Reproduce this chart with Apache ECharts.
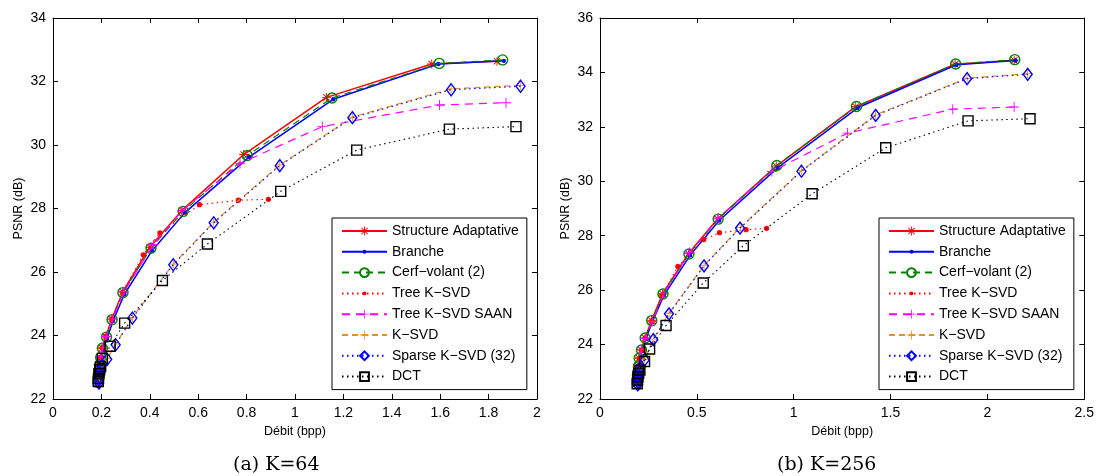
<!DOCTYPE html>
<html><head><meta charset="utf-8">
<script src="https://cdn.jsdelivr.net/npm/echarts@6/dist/echarts.min.js"></script>
<style>html,body{margin:0;padding:0;background:#fff}#c{width:1097px;height:476px}</style>
</head><body><div id="c"></div>
<script>
const seriesNames = ['Structure Adaptative','Branche','Cerf\u2212volant (2)','Tree K\u2212SVD','Tree K\u2212SVD SAAN','K\u2212SVD','Sparse K\u2212SVD (32)','DCT'];
const xTicks64 = {min:0, max:2, interval:0.2};
const yTicks64 = {min:22, max:34, interval:2};
const xTicks256 = {min:0, max:2.5, interval:0.5};
const yTicks256 = {min:22, max:36, interval:2};
const captions = ['(a) K=64','(b) K=256'];
const axisNames = {x:'D\u00e9bit (bpp)', y:'PSNR (dB)'};

// ---- K = 64 : [rate (bpp), PSNR (dB)] ----
const k64_structure = [[0.186,22.52],[0.187,22.62],[0.188,22.74],[0.19,22.88],[0.192,23.05],[0.196,23.3],[0.203,23.6],[0.218,23.96],[0.243,24.52],[0.288,25.37],[0.4,26.78],[0.533,27.94],[0.788,29.7],[1.13,31.5],[1.565,32.55],[1.835,32.64]];
const k64_branche = [[0.187,22.5],[0.188,22.6],[0.189,22.72],[0.191,22.86],[0.193,23.02],[0.198,23.26],[0.206,23.55],[0.223,23.9],[0.248,24.46],[0.295,25.3],[0.41,26.68],[0.545,27.87],[0.81,29.62],[1.158,31.44],[1.592,32.55],[1.863,32.65]];
const k64_cerf = [[0.186,22.52],[0.187,22.63],[0.188,22.75],[0.19,22.9],[0.192,23.07],[0.197,23.31],[0.204,23.6],[0.221,23.95],[0.244,24.5],[0.289,25.35],[0.405,26.75],[0.538,27.91],[0.803,29.67],[1.153,31.48],[1.596,32.57],[1.858,32.68]];
const k64_tree = [[0.186,22.53],[0.187,22.64],[0.188,22.76],[0.19,22.9],[0.192,23.07],[0.196,23.32],[0.203,23.62],[0.218,23.97],[0.243,24.52],[0.288,25.36],[0.373,26.54],[0.442,27.23],[0.605,28.12],[0.766,28.26],[0.89,28.29]];
const k64_saan = [[0.186,22.54],[0.187,22.65],[0.188,22.77],[0.19,22.92],[0.192,23.08],[0.197,23.33],[0.204,23.62],[0.22,23.97],[0.246,24.52],[0.293,25.38],[0.415,26.86],[0.533,27.93],[0.773,29.42],[1.113,30.58],[1.597,31.26],[1.872,31.33]];
const k64_ksvd = [[0.19,22.52],[0.191,22.62],[0.192,22.72],[0.194,22.84],[0.197,22.95],[0.201,23.07],[0.224,23.27],[0.259,23.73],[0.328,24.57],[0.497,26.25],[0.664,27.57],[0.937,29.37],[1.237,30.88],[1.645,31.77],[1.932,31.88]];
const k64_sparse = [[0.19,22.5],[0.191,22.6],[0.192,22.7],[0.194,22.82],[0.197,22.93],[0.201,23.05],[0.224,23.25],[0.259,23.71],[0.328,24.55],[0.497,26.23],[0.664,27.55],[0.937,29.35],[1.237,30.86],[1.645,31.74],[1.932,31.85]];
const k64_dct = [[0.187,22.55],[0.188,22.65],[0.19,22.8],[0.193,22.92],[0.197,23.02],[0.204,23.28],[0.236,23.66],[0.296,24.39],[0.452,25.73],[0.638,26.88],[0.941,28.54],[1.255,29.84],[1.638,30.5],[1.913,30.58]];

// ---- K = 256 : [rate (bpp), PSNR (dB)] ----
const k256_structure = [[0.192,22.57],[0.193,22.69],[0.194,22.84],[0.196,23.0],[0.198,23.2],[0.202,23.5],[0.214,23.8],[0.233,24.24],[0.266,24.88],[0.323,25.86],[0.457,27.35],[0.608,28.62],[0.91,30.56],[1.32,32.74],[1.833,34.3],[2.138,34.45]];
const k256_branche = [[0.193,22.55],[0.194,22.67],[0.195,22.82],[0.197,22.98],[0.199,23.17],[0.204,23.46],[0.216,23.76],[0.236,24.2],[0.27,24.83],[0.329,25.8],[0.465,27.28],[0.615,28.56],[0.918,30.5],[1.33,32.7],[1.84,34.28],[2.145,34.44]];
const k256_cerf = [[0.192,22.58],[0.193,22.7],[0.194,22.85],[0.196,23.0],[0.198,23.2],[0.202,23.5],[0.214,23.8],[0.233,24.24],[0.267,24.88],[0.325,25.86],[0.459,27.33],[0.61,28.61],[0.913,30.58],[1.324,32.75],[1.836,34.31],[2.141,34.47]];
const k256_tree = [[0.192,22.58],[0.193,22.7],[0.194,22.85],[0.196,23.0],[0.198,23.2],[0.202,23.5],[0.214,23.8],[0.233,24.24],[0.268,24.87],[0.319,25.8],[0.402,26.87],[0.535,27.86],[0.617,28.11],[0.754,28.22],[0.86,28.27]];
const k256_saan = [[0.192,22.6],[0.193,22.72],[0.194,22.86],[0.196,23.02],[0.198,23.22],[0.203,23.52],[0.214,23.82],[0.233,24.22],[0.27,24.85],[0.33,25.88],[0.462,27.38],[0.61,28.65],[0.887,30.36],[1.278,31.77],[1.821,32.65],[2.138,32.73]];
const k256_ksvd = [[0.195,22.54],[0.196,22.65],[0.198,22.77],[0.2,22.9],[0.203,23.02],[0.206,23.15],[0.231,23.46],[0.275,24.2],[0.356,25.15],[0.537,26.91],[0.723,28.3],[1.04,30.39],[1.423,32.44],[1.895,33.79],[2.208,33.95]];
const k256_sparse = [[0.195,22.52],[0.196,22.63],[0.198,22.75],[0.2,22.88],[0.203,23.0],[0.206,23.13],[0.231,23.44],[0.275,24.18],[0.356,25.13],[0.537,26.89],[0.723,28.28],[1.04,30.37],[1.423,32.42],[1.895,33.77],[2.208,33.93]];
const k256_dct = [[0.192,22.56],[0.194,22.7],[0.196,22.82],[0.2,22.95],[0.206,23.06],[0.23,23.38],[0.256,23.84],[0.341,24.7],[0.533,26.26],[0.74,27.63],[1.095,29.54],[1.475,31.23],[1.9,32.22],[2.22,32.3]];

const data64 = [k64_structure,k64_branche,k64_cerf,k64_tree,k64_saan,k64_ksvd,k64_sparse,k64_dct];
const data256 = [k256_structure,k256_branche,k256_cerf,k256_tree,k256_saan,k256_ksvd,k256_sparse,k256_dct];

const FONT = 'Liberation Sans';
const ORANGE = '#e8901c';
const asterisk = 'path://M9,0 L11,0 L11,20 L9,20 Z M0,9 L20,9 L20,11 L0,11 Z M2.2,3.6 L3.6,2.2 L17.8,16.4 L16.4,17.8 Z M16.4,2.2 L17.8,3.6 L3.6,17.8 L2.2,16.4 Z';
const plus = 'path://M9.1,0 L10.9,0 L10.9,20 L9.1,20 Z M0,9.1 L20,9.1 L20,10.9 L0,10.9 Z';
// small dot centred in a 20x20 box (tiny corner specks keep the box size)
const dot = 'path://M0,0 L0.05,0 L0,0.05 Z M20,20 L19.95,20 L20,19.95 Z M5.6,10 A4.4,4.4 0 1,0 14.4,10 A4.4,4.4 0 1,0 5.6,10 Z';
const styles = [
  {color:'#ff0000', width:1.5, type:'solid', symbol:asterisk, size:9, fill:'#ff0000', border:0},
  {color:'#0000ff', width:1.5, type:'solid', symbol:dot, size:10, fill:'#0000ff', border:0},
  {color:'#008000', width:1.2, type:[7,5], symbol:'circle', size:10, fill:'rgba(0,0,0,0)', border:1.4},
  {color:'#ff0000', width:1.1, type:[1.5,3.5], symbol:dot, size:12, fill:'#ff0000', border:0},
  {color:'#ff00ff', width:1.2, type:[8,6], symbol:plus, size:10, fill:'#ff00ff', border:0},
  {color:ORANGE, width:1.2, type:[6,4], symbol:plus, size:9, fill:ORANGE, border:0},
  {color:'#0000ff', width:1.1, type:[1.5,3.5], symbol:'diamond', size:[9,12], fill:'rgba(0,0,0,0)', border:1.4},
  {color:'#000000', width:1.1, type:[1.5,3.5], symbol:'rect', size:10, fill:'rgba(0,0,0,0)', border:1.4}
];

const grids = [
  {left:53, top:18, width:484, height:381},
  {left:600, top:18, width:486, height:381}
];
const axLine = {show:true, onZero:false, lineStyle:{color:'#000', width:1}};
const axTick = {show:true, inside:true, length:5, lineStyle:{color:'#000', width:1}};
const lbl = {color:'#000', fontFamily:FONT, fontSize:14};
function xAx(g, t){
  return [
    {gridIndex:g, type:'value', position:'bottom', min:t.min, max:t.max, interval:t.interval,
     axisLine:axLine, axisTick:axTick, splitLine:{show:false}, axisLabel:Object.assign({margin:7}, lbl),
     name:axisNames.x, nameLocation:'middle', nameGap:24, nameTextStyle:{color:'#000', fontFamily:FONT, fontSize:12.5}},
    {gridIndex:g, type:'value', position:'top', min:t.min, max:t.max, interval:t.interval,
     axisLine:axLine, axisTick:axTick, splitLine:{show:false}, axisLabel:{show:false}}
  ];
}
function yAx(g, t){
  return [
    {gridIndex:g, type:'value', position:'left', min:t.min, max:t.max, interval:t.interval,
     axisLine:axLine, axisTick:axTick, splitLine:{show:false}, axisLabel:Object.assign({margin:7}, lbl),
     name:axisNames.y, nameLocation:'middle', nameGap:28, nameRotate:90, nameTextStyle:{color:'#000', fontFamily:FONT, fontSize:12.5}},
    {gridIndex:g, type:'value', position:'right', min:t.min, max:t.max, interval:t.interval,
     axisLine:axLine, axisTick:axTick, splitLine:{show:false}, axisLabel:{show:false}}
  ];
}
const xAxis = xAx(0, xTicks64).concat(xAx(1, xTicks256));
const yAxis = yAx(0, yTicks64).concat(yAx(1, yTicks256));

const series = [];
[data64, data256].forEach(function(ds, g){
  ds.forEach(function(d, i){
    const s = styles[i];
    series.push({
      type:'line', name:seriesNames[i], data:d,
      xAxisIndex:g*2, yAxisIndex:g*2,
      symbol:s.symbol, symbolSize:s.size, symbolKeepAspect:true, showSymbol:true,
      lineStyle:{color:s.color, width:s.width, type:s.type},
      itemStyle:{color:s.fill, borderColor:s.color, borderWidth:s.border},
      emphasis:{disabled:true}, z:2+i
    });
  });
});

function legendAt(left){
  return {
    left:left, top:218, orient:'vertical', data:seriesNames, selectedMode:false,
    itemWidth:45, itemHeight:11, itemGap:6.8, padding:[6,8,6,9],
    borderColor:'#000', borderWidth:1, backgroundColor:'#fff',
    textStyle:{color:'#000', fontFamily:FONT, fontSize:14}
  };
}

const chart = echarts.init(document.getElementById('c'), null, {renderer:'canvas'});
chart.setOption({
  animation:false,
  backgroundColor:'#fff',
  grid:grids,
  xAxis:xAxis,
  yAxis:yAxis,
  legend:[legendAt(332), legendAt(879)],
  series:series,
  graphic:[
    {type:'text', left:233, top:456, style:{text:captions[0], fill:'#000', font:'19px "DejaVu Serif"'}},
    {type:'text', left:777, top:456, style:{text:captions[1], fill:'#000', font:'19px "DejaVu Serif"'}}
  ]
});
</script>
</body></html>
